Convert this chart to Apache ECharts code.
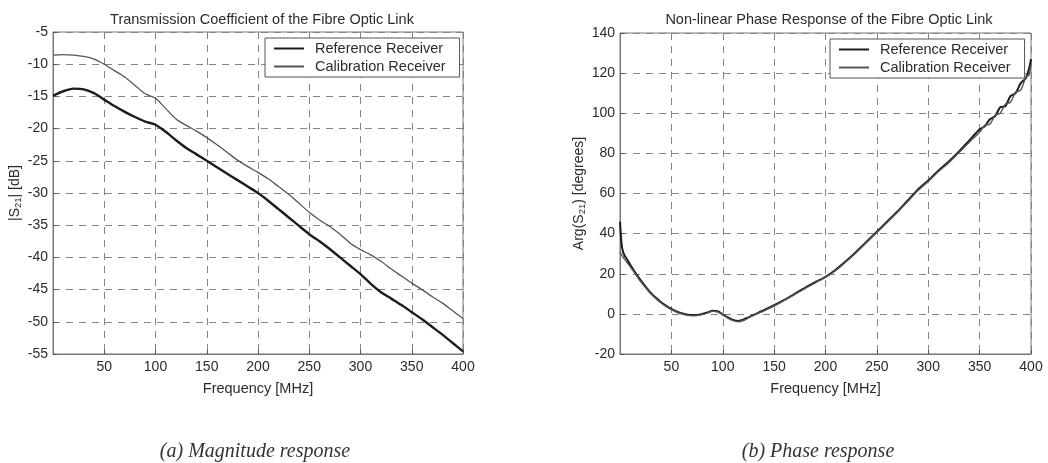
<!DOCTYPE html>
<html>
<head>
<meta charset="utf-8">
<title>Fibre Optic Link Response</title>
<script src="https://cdn.jsdelivr.net/npm/echarts@6/dist/echarts.min.js"></script>
<style>
  html, body { margin: 0; padding: 0; background: #fff; }
  #chart { width: 1048px; height: 463px; }
</style>
</head>
<body>
<div id="chart"></div>
<script>
// Magnitude response |S21| in dB, sampled every 10 MHz
const magFreq = [0, 10, 20, 30, 40, 50, 60, 70, 80, 90, 100, 110, 120, 130, 140, 150, 160, 170, 180, 190,
  200, 210, 220, 230, 240, 250, 260, 270, 280, 290, 300, 310, 320, 330, 340, 350, 360, 370, 380, 390, 400];
const magReference = [-14.9, -14.2, -13.8, -13.9, -14.5, -15.5, -16.5, -17.4, -18.2, -18.9, -19.4, -20.5,
  -21.8, -23.0, -24.0, -25.0, -26.0, -27.0, -28.0, -29.0, -30.0, -31.2, -32.5, -33.8, -35.1, -36.4, -37.5,
  -38.7, -40.0, -41.3, -42.6, -44.1, -45.4, -46.4, -47.4, -48.5, -49.6, -50.8, -52.0, -53.3, -54.6];
const magCalibration = [-8.6, -8.5, -8.6, -8.8, -9.2, -10.0, -11.0, -12.0, -13.3, -14.6, -15.3, -16.9,
  -18.5, -19.5, -20.4, -21.4, -22.5, -23.7, -24.9, -25.9, -26.8, -27.8, -29.0, -30.2, -31.6, -33.0, -34.2,
  -35.2, -36.4, -37.8, -38.8, -39.6, -40.6, -41.8, -42.9, -44.0, -45.0, -46.1, -47.1, -48.3, -49.5];

// Non-linear phase response Arg(S21) in degrees
const phaseFreq = [0, 1, 2, 4, 7, 10, 15, 20, 25, 30, 35, 40, 45, 50, 55, 60, 65, 70, 75, 80, 85, 90, 95,
  100, 105, 110, 115, 120, 125, 130, 140, 150, 160, 170, 180, 190, 200, 210, 220, 230, 240, 250, 260, 270,
  280, 290, 300, 310, 320, 330, 340, 350, 355, 360, 365, 370, 375, 380, 385, 390, 395, 398, 400];
const phaseReference = [46, 38, 33, 29.5, 27, 24.5, 20.5, 16.8, 13.5, 10.5, 8, 5.8, 4, 2.5, 1.2, 0.3, -0.3,
  -0.6, -0.5, 0, 0.7, 1.6, 1.3, -0.2, -1.8, -3, -3.5, -2.9, -1.7, -0.5, 1.8, 4.3, 7, 10, 13, 15.8, 18.5, 22,
  26.3, 31, 36, 41, 46, 51, 56.5, 62, 66.5, 71.5, 76, 81, 86.5, 92, 93.5, 97, 98.5, 103, 103.5, 108.5, 110,
  115, 117.5, 122, 127];
const phaseCalibration = [31, 30, 29, 27.5, 25.5, 23.5, 19.8, 16.2, 13, 10, 7.6, 5.4, 3.6, 2.1, 0.9, 0, -0.6,
  -0.9, -0.8, -0.3, 0.4, 1.3, 1.0, -0.5, -2.1, -3.4, -3.9, -3.3, -2.0, -0.8, 1.5, 4.0, 6.8, 9.7, 12.6, 15.5,
  18.2, 21.6, 26, 30.6, 35.6, 40.6, 45.5, 50.6, 56, 61.5, 66, 71, 75.3, 80.4, 85.6, 90.5, 94, 94.5, 99, 100,
  104.5, 105.5, 110.5, 111.5, 118, 119, 124];

const seriesNames = ['Reference Receiver', 'Calibration Receiver'];
const titles = ['Transmission Coefficient of the Fibre Optic Link', 'Non-linear Phase Response of the Fibre Optic Link'];
const captions = ['(a) Magnitude response', '(b) Phase response'];

const pairs = (xs, ys) => xs.map((x, i) => [x, ys[i]]);

const FONT = '"Liberation Sans", Arial, sans-serif';
const INK = '#2b2b2b';
const GRIDLINE = { color: '#858585', type: [7, 6], width: 1 };

const panels = [
  { left: 53, top: 32, width: 410, height: 322 },
  { left: 620, top: 33, width: 411, height: 321 }
];

function xAxis(gridIndex) {
  return {
    type: 'value', gridIndex, min: 0, max: 400, interval: 50,
    name: 'Frequency [MHz]', nameLocation: 'middle', nameGap: 27,
    nameTextStyle: { fontFamily: FONT, fontSize: 14.5, color: INK },
    axisLine: { onZero: false, lineStyle: { color: '#777', width: 1 } },
    axisTick: { inside: true, length: 4, lineStyle: { color: '#555' } },
    axisLabel: { showMinLabel: false, margin: 6, fontFamily: FONT, fontSize: 14, color: INK },
    splitLine: { show: true, lineStyle: GRIDLINE }
  };
}

function yAxis(gridIndex, min, max, interval, name, gap) {
  return {
    type: 'value', gridIndex, min, max, interval,
    name, nameLocation: 'middle', nameGap: gap,
    nameTextStyle: {
      fontFamily: FONT, fontSize: 14, color: INK, lineHeight: 17,
      rich: { sub: { fontFamily: FONT, fontSize: 9.5, color: INK, lineHeight: 17, verticalAlign: 'bottom', padding: [7, 0, 0, 0] } }
    },
    axisLine: { show: true, onZero: false, lineStyle: { color: '#777', width: 1 } },
    axisTick: { show: true, inside: true, length: 4, lineStyle: { color: '#555' } },
    axisLabel: { margin: 5, fontFamily: FONT, fontSize: 14, color: INK },
    splitLine: { show: true, lineStyle: GRIDLINE }
  };
}

function legend(left, top) {
  return {
    left, top, orient: 'vertical',
    data: seriesNames,
    selectedMode: false,
    backgroundColor: '#fff',
    borderColor: '#555', borderWidth: 1, borderRadius: 0,
    padding: [3, 14, 3, 8],
    itemWidth: 30, itemHeight: 12, itemGap: 3,
    itemStyle: { opacity: 0 },
    textStyle: { fontFamily: FONT, fontSize: 14.5, color: INK, padding: [0, 0, 0, 6] }
  };
}

function line(name, xi, data, color, width) {
  return {
    name, type: 'line', xAxisIndex: xi, yAxisIndex: xi,
    data, symbol: 'none', smooth: 0.25, silent: true, animation: false,
    lineStyle: { color, width }, itemStyle: { color }, z: width > 2 ? 3 : 4
  };
}

const chart = echarts.init(document.getElementById('chart'), null, { renderer: 'canvas' });

chart.setOption({
  backgroundColor: '#fff',
  animation: false,
  title: [
    { text: titles[0], left: 257, top: 7, textAlign: 'center',
      textStyle: { fontFamily: FONT, fontSize: 14.5, fontWeight: 'normal', color: INK } },
    { text: titles[1], left: 824, top: 7, textAlign: 'center',
      textStyle: { fontFamily: FONT, fontSize: 14.5, fontWeight: 'normal', color: INK } },
    { text: captions[0], left: 250, top: 437, textAlign: 'center',
      textStyle: { fontFamily: '"Liberation Serif", "Times New Roman", serif', fontStyle: 'italic', fontSize: 20, fontWeight: 'normal', color: '#333' } },
    { text: captions[1], left: 813, top: 437, textAlign: 'center',
      textStyle: { fontFamily: '"Liberation Serif", "Times New Roman", serif', fontStyle: 'italic', fontSize: 20, fontWeight: 'normal', color: '#333' } }
  ],
  legend: [legend(265, 38), legend(830, 39)],
  grid: panels.map(p => Object.assign({ show: true, borderColor: '#777', borderWidth: 1, backgroundColor: 'transparent' }, p)),
  xAxis: [xAxis(0), xAxis(1)],
  yAxis: [
    yAxis(0, -55, -5, 5, '|S{sub|21}| [dB]', 28),
    yAxis(1, -20, 140, 20, 'Arg(S{sub|21}) [degrees]', 30)
  ],
  series: [
    line(seriesNames[0], 0, pairs(magFreq, magReference), '#1c1c1c', 2.4),
    line(seriesNames[1], 0, pairs(magFreq, magCalibration), '#555555', 1.3),
    line(seriesNames[0], 1, pairs(phaseFreq, phaseReference), '#1c1c1c', 2.0),
    line(seriesNames[1], 1, pairs(phaseFreq, phaseCalibration), '#555555', 1.4)
  ]
});
</script>
</body>
</html>
